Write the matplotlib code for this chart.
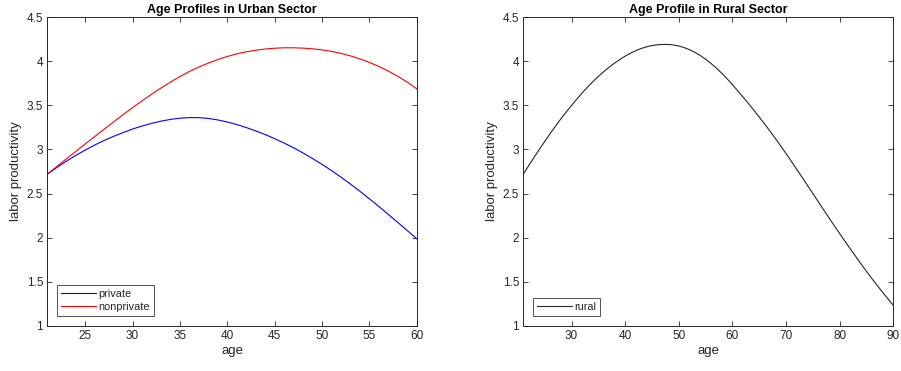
import matplotlib
matplotlib.use("Agg")
import matplotlib.pyplot as plt

plt.rcParams['font.family'] = ['Liberation Sans', 'DejaVu Sans']

# Urban sector data (ages 21..60)
urban_age = list(range(21, 61))
private = [2.720, 2.795, 2.866, 2.932, 2.993, 3.050, 3.102, 3.149, 3.191, 3.232,
           3.266, 3.296, 3.321, 3.341, 3.355, 3.362, 3.361, 3.352, 3.335, 3.312,
           3.283, 3.249, 3.211, 3.169, 3.123, 3.073, 3.019, 2.960, 2.897, 2.831,
           2.761, 2.686, 2.608, 2.526, 2.441, 2.353, 2.263, 2.172, 2.080, 1.987]
nonprivate = [2.720, 2.806, 2.892, 2.977, 3.062, 3.146, 3.230, 3.313, 3.395, 3.475,
              3.552, 3.626, 3.697, 3.764, 3.828, 3.885, 3.935, 3.980, 4.020, 4.055,
              4.085, 4.108, 4.126, 4.140, 4.149, 4.154, 4.154, 4.150, 4.142, 4.130,
              4.113, 4.090, 4.062, 4.028, 3.988, 3.942, 3.890, 3.831, 3.764, 3.689]

# Rural sector data (ages 21..90)
rural_age = list(range(21, 91))
rural = [2.720, 2.816, 2.910, 3.002, 3.092, 3.180, 3.265, 3.347, 3.425, 3.499,
         3.573, 3.643, 3.709, 3.771, 3.829, 3.883, 3.933, 3.979, 4.021, 4.059,
         4.093, 4.122, 4.146, 4.165, 4.179, 4.188, 4.192, 4.192, 4.186, 4.174,
         4.156, 4.132, 4.102, 4.066, 4.024, 3.976, 3.923, 3.865, 3.802, 3.735,
         3.664, 3.593, 3.520, 3.445, 3.368, 3.289, 3.208, 3.125, 3.040, 2.953,
         2.864, 2.774, 2.683, 2.591, 2.499, 2.407, 2.315, 2.224, 2.134, 2.045,
         1.957, 1.870, 1.784, 1.699, 1.616, 1.535, 1.456, 1.379, 1.304, 1.231]

yticks = [1, 1.5, 2, 2.5, 3, 3.5, 4, 4.5]
yticklabels = ['1', '1.5', '2', '2.5', '3', '3.5', '4', '4.5']
urban_xticks = [25, 30, 35, 40, 45, 50, 55, 60]
rural_xticks = [30, 40, 50, 60, 70, 80, 90]

axcol = (0.15, 0.15, 0.15)

fig = plt.figure(figsize=(9.01, 3.71), dpi=100)
ax1 = fig.add_axes([0.0525, 0.1221, 0.41, 0.8313])
ax2 = fig.add_axes([0.5808, 0.1221, 0.4107, 0.8313])

def style(ax, xlim, xticks):
    ax.set_xlim(*xlim)
    ax.set_ylim(1, 4.5)
    ax.set_xticks(xticks)
    ax.set_xticklabels([str(t) for t in xticks])
    ax.set_yticks(yticks)
    ax.set_yticklabels(yticklabels)
    ax.tick_params(direction='in', top=True, right=True, length=3.5, width=0.6,
                   labelsize=8.5, colors=axcol, pad=3)
    for s in ax.spines.values():
        s.set_color(axcol)
        s.set_linewidth(0.7)
    ax.set_xlabel('age', fontsize=9.5, color=axcol, labelpad=2)
    ax.set_ylabel('labor productivity', fontsize=9.5, color=axcol, labelpad=3)

def add_legend(ax):
    leg = ax.legend(loc='lower left', fontsize=7.8, frameon=True, fancybox=False,
                    handlelength=3.2, handletextpad=0.25, borderpad=0.35,
                    labelspacing=0.3, borderaxespad=0.9)
    leg.get_frame().set_edgecolor(axcol)
    leg.get_frame().set_linewidth(0.7)
    for t in leg.get_texts():
        t.set_color(axcol)

ax1.plot(urban_age, private, color=(0, 0, 1), lw=0.8, label='private')
ax1.plot(urban_age, nonprivate, color=(1, 0, 0), lw=0.8, label='nonprivate')
style(ax1, (21, 60), urban_xticks)
ax1.set_title('Age Profiles in Urban Sector', fontsize=9, fontweight='bold', pad=3)
add_legend(ax1)

ax2.plot(rural_age, rural, color=(0.15, 0.15, 0.15), lw=0.8, label='rural')
style(ax2, (21, 90), rural_xticks)
ax2.set_title('Age Profile in Rural Sector', fontsize=9, fontweight='bold', pad=3)
add_legend(ax2)

fig.savefig('out.png', dpi=100)
